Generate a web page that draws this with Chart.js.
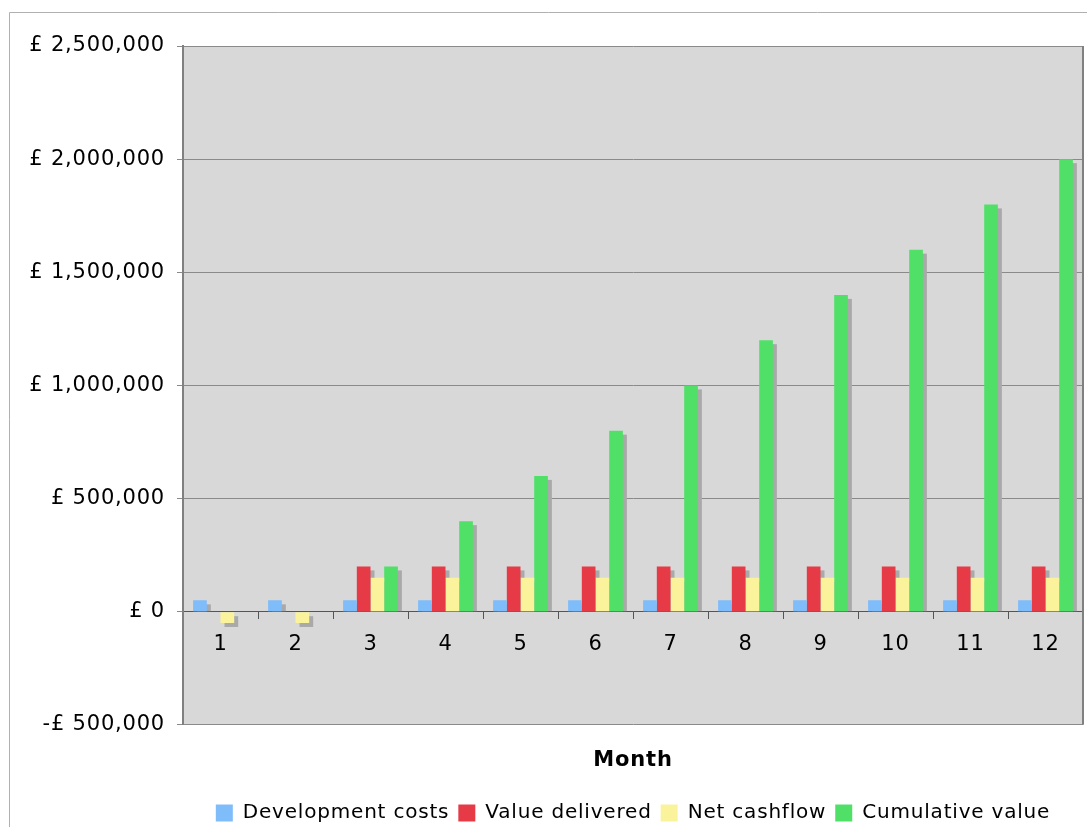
<!DOCTYPE html>
<html lang="en">
<head>
    <meta charset="UTF-8">
    <title>Monthly value</title>
    <script src="https://cdn.jsdelivr.net/npm/chart.js"></script>
    <style>
        html, body { margin: 0; padding: 0; background: #fff; overflow: hidden; }
        #wrap { width: 1087px; height: 827px; }
    </style>
</head>
<body>
    <div id="wrap"><canvas id="chart"></canvas></div>

    <script>
        // data
        const months = ['1', '2', '3', '4', '5', '6', '7', '8', '9', '10', '11', '12'];
        const devCosts = [50000, 50000, 50000, 50000, 50000, 50000, 50000, 50000, 50000, 50000, 50000, 50000];
        const valueDelivered = [0, 0, 200000, 200000, 200000, 200000, 200000, 200000, 200000, 200000, 200000, 200000];
        const netCashflow = [-50000, -50000, 150000, 150000, 150000, 150000, 150000, 150000, 150000, 150000, 150000, 150000];
        const cumulativeValue = [0, 0, 200000, 400000, 600000, 800000, 1000000, 1200000, 1400000, 1600000, 1800000, 2000000];

        const FONT = 'DejaVu Sans, Verdana, sans-serif';

        function money(v) {
            const s = Math.abs(v).toLocaleString('en-GB');
            return (v < 0 ? '-£ ' : '£ ') + s;
        }

        // the original font (Verdana) runs wider than DejaVu, spread the letters a bit
        const spacing = {
            id: 'spacing',
            beforeLayout(chart) { chart.ctx.letterSpacing = '0.8px'; },
            beforeDraw(chart) { chart.ctx.letterSpacing = '0.8px'; }
        };

        // grey plot background + outer frame
        const backdrop = {
            id: 'backdrop',
            beforeDraw(chart) {
                const { ctx, chartArea: a } = chart;
                ctx.save();
                ctx.fillStyle = '#d8d8d8';
                ctx.fillRect(a.left, a.top, a.right - a.left, a.bottom - a.top);
                ctx.strokeStyle = '#b0b0b0';
                ctx.lineWidth = 1;
                ctx.beginPath();
                ctx.moveTo(9.5, chart.height);
                ctx.lineTo(9.5, 12.5);
                ctx.lineTo(chart.width, 12.5);
                ctx.stroke();
                ctx.restore();
            },
            afterDraw(chart) {
                const { ctx, chartArea: a } = chart;
                ctx.save();
                ctx.strokeStyle = '#808080';
                ctx.lineWidth = 2;
                ctx.beginPath();
                ctx.moveTo(a.left, a.top);
                ctx.lineTo(a.left, a.bottom);
                ctx.moveTo(a.right, a.top);
                ctx.lineTo(a.right, a.bottom);
                ctx.stroke();
                ctx.restore();
            }
        };

        // flat drop shadow behind every bar
        const barShadow = {
            id: 'barShadow',
            beforeDatasetsDraw(chart) {
                const ctx = chart.ctx;
                ctx.save();
                ctx.fillStyle = '#a9a9a9';
                chart.getSortedVisibleDatasetMetas().forEach(meta => {
                    meta.data.forEach(bar => {
                        const { x, y, base, width } = bar.getProps(['x', 'y', 'base', 'width'], true);
                        if (Math.abs(base - y) < 0.5) return;
                        const left = x - width / 2 + 4;
                        if (y < base) {
                            ctx.fillRect(left, y + 4, width, base - y - 4);
                        } else {
                            ctx.fillRect(left, base + 4, width, y - base);
                        }
                    });
                });
                ctx.restore();
            }
        };

        new Chart(document.getElementById('chart'), {
            type: 'bar',
            data: {
                labels: months,
                datasets: [
                    { label: 'Development costs', data: devCosts, backgroundColor: '#7fbcfa' },
                    { label: 'Value delivered', data: valueDelivered, backgroundColor: '#e63a47' },
                    { label: 'Net cashflow', data: netCashflow, backgroundColor: '#fbf39c' },
                    { label: 'Cumulative value', data: cumulativeValue, backgroundColor: '#50e068' }
                ]
            },
            options: {
                responsive: true,
                maintainAspectRatio: false,
                animation: false,
                datasets: {
                    bar: { categoryPercentage: 0.73, barPercentage: 1.0, borderWidth: 0 }
                },
                layout: { padding: { left: 10, top: 46, right: 4, bottom: -6 } },
                plugins: {
                    tooltip: { enabled: false },
                    title: {
                        display: true,
                        text: 'Month',
                        position: 'bottom',
                        fullSize: false,
                        weight: 500,
                        color: '#000',
                        font: { family: FONT, size: 21, weight: 'bold' },
                        padding: { top: 23, bottom: 21 }
                    },
                    legend: {
                        position: 'bottom',
                        fullSize: false,
                        labels: {
                            color: '#000',
                            font: { family: FONT, size: 20 },
                            boxWidth: 17,
                            boxHeight: 17,
                            padding: 9
                        }
                    }
                },
                scales: {
                    x: {
                        position: { y: 0 },
                        grid: {
                            display: true,
                            drawOnChartArea: false,
                            drawTicks: true,
                            tickLength: 7,
                            color: '#555',
                            offset: true
                        },
                        border: { display: true, color: '#555', width: 1 },
                        ticks: {
                            color: '#000',
                            padding: 13,
                            font: { family: FONT, size: 21 }
                        }
                    },
                    y: {
                        min: -500000,
                        max: 2500000,
                        afterFit(scale) { scale.width = 173; },
                        grid: {
                            color: '#8a8a8a',
                            tickLength: 6,
                            drawTicks: true
                        },
                        border: { display: true, color: '#808080', width: 2 },
                        ticks: {
                            stepSize: 500000,
                            color: '#000',
                            padding: 12,
                            font: { family: FONT, size: 21 },
                            callback: v => money(v)
                        }
                    }
                }
            },
            plugins: [spacing, backdrop, barShadow]
        });
    </script>
</body>
</html>
